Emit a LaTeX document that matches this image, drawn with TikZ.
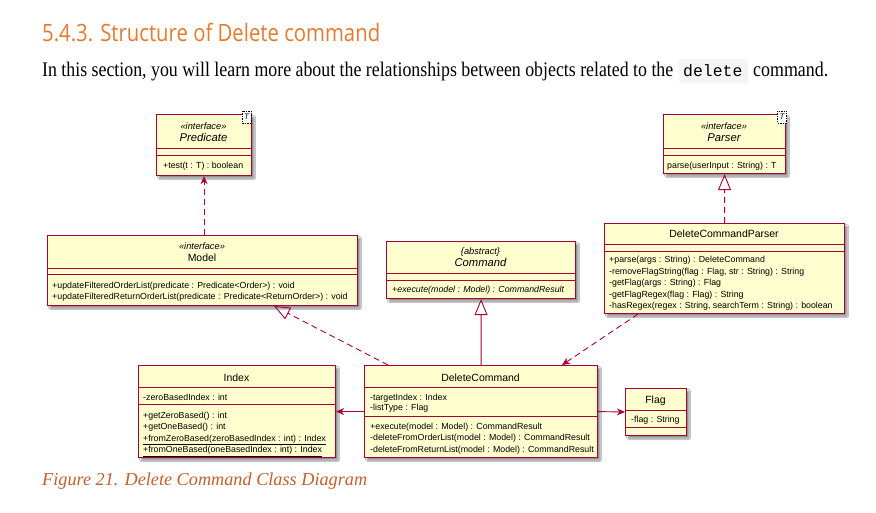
\documentclass[tikz,border=0pt]{standalone}
\usepackage{fontspec}
\setmainfont{Liberation Serif}
\newfontfamily\umlfont{Liberation Sans}
\newfontfamily\titlefont[FakeStretch=0.85]{Open Sans}
\newfontfamily\bodyfont[FakeStretch=0.86]{Liberation Serif}
\newfontfamily\codefont{Liberation Mono}
\usetikzlibrary{arrows.meta,shadows.blur}
\definecolor{umlred}{HTML}{A80036}
\definecolor{umlfill}{HTML}{FEFECE}
\definecolor{titleorange}{HTML}{E67A2E}
\definecolor{captionorange}{HTML}{C4602B}
\definecolor{codebg}{HTML}{F5F5F5}
\tikzset{
 cls/.style={draw=umlred, fill=umlfill, line width=1.1bp, inner sep=0, anchor=north west,
   blur shadow={shadow xshift=2.5bp, shadow yshift=-2.5bp, shadow blur radius=1.5bp, shadow opacity=45}},
 sep/.style={draw=umlred, line width=0.9bp},
 mem/.style={anchor=base west, inner sep=0, font=\umlfont\fontsize{8.85}{11}\selectfont},
 imem/.style={mem, font=\umlfont\itshape\fontsize{8.85}{11}\selectfont},
 cname/.style={anchor=base, inner sep=0, font=\umlfont\fontsize{10.5}{12}\selectfont},
 iname/.style={cname, font=\umlfont\itshape\fontsize{11.3}{12}\selectfont},
 stereo/.style={anchor=base, inner sep=0, font=\umlfont\itshape\fontsize{9.3}{10}\selectfont},
 tmpl/.style={draw=black, dash pattern=on 1.5bp off 1bp, fill=white, line width=0.6bp, inner sep=0,
   minimum width=9bp, minimum height=12bp, font=\umlfont\itshape\fontsize{8}{9}\selectfont},
 dep/.style={draw=umlred, line width=0.9bp, -{Stealth[length=8bp,width=7bp,inset=2.5bp]}},
 depdash/.style={dep, dash pattern=on 6bp off 4bp},
 real/.style={draw=umlred, line width=0.9bp, -{Triangle[open,length=16bp,width=13bp]}},
 realdash/.style={real, dash pattern=on 6bp off 4bp},
 txt/.style={anchor=base west, inner sep=0},
}
\begin{document}
\begin{tikzpicture}[x=1bp,y=-1bp]
\useasboundingbox[fill=white] (0,0) rectangle (876,513);

% heading and text
\node[txt, text=titleorange] (title) at (42,42)
  {\resizebox{338bp}{!}{\titlefont\fontsize{21}{24}\selectfont 5.4.3. Structure of Delete command}};
\node[txt] (intro) at (42,77)
  {\resizebox{631bp}{!}{\bodyfont\fontsize{18}{20}\selectfont In this section, you will learn more about the relationships between objects related to the}};
\node[fill=codebg, rounded corners=2bp, anchor=north west, minimum width=69bp, minimum height=24bp, inner sep=0] (code) at (679,59) {};
\node[txt] (codetext) at (683,77) {\codefont\fontsize{16.5}{18}\selectfont delete};
\node[txt] (intro2) at (753,77)
  {\resizebox{75bp}{!}{\bodyfont\fontsize{18}{20}\selectfont command.}};
\node[txt, text=captionorange] (caption) at (42,485)
  {\resizebox{325bp}{!}{\fontsize{19}{22}\selectfont\itshape Figure 21. Delete Command Class Diagram}};

% Predicate
\node[cls, minimum width=95bp, minimum height=61bp] (pred) at (156,114) {};
\draw[sep] (156,148) -- (251,148);
\draw[sep] (156,155) -- (251,155);
\node[stereo] (predst) at (203.5,130) {«interface»};
\node[iname] (predname) at (203.5,142) {Predicate};
\node[mem] (predm) at (163,169) {+test(t : T) : boolean};
\node[tmpl] (predT) at (246.5,117) {T};

% Parser
\node[cls, minimum width=122bp, minimum height=59bp] (parser) at (663,114) {};
\draw[sep] (663,148) -- (785,148);
\draw[sep] (663,155) -- (785,155);
\node[stereo] (parst) at (724,130) {«interface»};
\node[iname] (parname) at (724,142) {Parser};
\node[mem] (parm) at (667,169) {parse(userInput : String) : T};
\node[tmpl] (parT) at (782,117) {T};

% Model
\node[cls, minimum width=310bp, minimum height=70bp] (model) at (47,235) {};
\draw[sep] (47,268) -- (357,268);
\draw[sep] (47,274) -- (357,274);
\node[stereo] (modst) at (202,250) {«interface»};
\node[cname] (modname) at (202,262) {Model};
\node[mem] (modm1) at (52,289) {+updateFilteredOrderList(predicate : Predicate<Order>) : void};
\node[mem] (modm2) at (52,299.5) {+updateFilteredReturnOrderList(predicate : Predicate<ReturnOrder>) : void};

% Command
\node[cls, minimum width=189bp, minimum height=57bp] (cmd) at (386,241) {};
\draw[sep] (386,273) -- (575,273);
\draw[sep] (386,280) -- (575,280);
\node[stereo] (cmdst) at (480.5,255) {\{abstract\}};
\node[iname] (cmdname) at (480.5,267) {Command};
\node[imem] (cmdm) at (392,293) {+execute(model : Model) : CommandResult};

% DeleteCommandParser
\node[cls, minimum width=240bp, minimum height=90bp] (dcp) at (604,223) {};
\draw[sep] (604,244) -- (844,244);
\draw[sep] (604,251) -- (844,251);
\node[cname] (dcpname) at (724,238) {DeleteCommandParser};
\node[mem] (dcpm1) at (609,263) {+parse(args : String) : DeleteCommand};
\node[mem] (dcpm2) at (609,274.5) {-removeFlagString(flag : Flag, str : String) : String};
\node[mem] (dcpm3) at (609,286) {-getFlag(args : String) : Flag};
\node[mem] (dcpm4) at (609,297.5) {-getFlagRegex(flag : Flag) : String};
\node[mem] (dcpm5) at (609,309) {-hasRegex(regex : String, searchTerm : String) : boolean};

% Index
\node[cls, minimum width=197bp, minimum height=92bp] (index) at (138,365) {};
\draw[sep] (138,387) -- (335,387);
\draw[sep] (138,404) -- (335,404);
\node[cname] (idxname) at (236.5,381) {Index};
\node[mem] (idxa) at (143,400) {-zeroBasedIndex : int};
\node[mem] (idxm1) at (143,418) {+getZeroBased() : int};
\node[mem] (idxm2) at (143,429.5) {+getOneBased() : int};
\node[mem] (idxm3) at (143,441) {\underline{+fromZeroBased(zeroBasedIndex : int) : Index}};
\node[mem] (idxm4) at (143,452.5) {\underline{+fromOneBased(oneBasedIndex : int) : Index}};

% DeleteCommand
\node[cls, minimum width=233bp, minimum height=92bp] (dc) at (364,365) {};
\draw[sep] (364,387) -- (597,387);
\draw[sep] (364,416) -- (597,416);
\node[cname] (dcname) at (480.5,381) {DeleteCommand};
\node[mem] (dca1) at (370,400) {-targetIndex : Index};
\node[mem] (dca2) at (370,410.5) {-listType : Flag};
\node[mem] (dcm1) at (370,429) {+execute(model : Model) : CommandResult};
\node[mem] (dcm2) at (370,440.5) {-deleteFromOrderList(model : Model) : CommandResult};
\node[mem] (dcm3) at (370,452) {-deleteFromReturnList(model : Model) : CommandResult};

% Flag
\node[cls, minimum width=61bp, minimum height=47bp] (flag) at (625,388) {};
\draw[sep] (625,410) -- (686,410);
\draw[sep] (625,427) -- (686,427);
\node[cname] (flagname) at (655.5,403) {Flag};
\node[mem] (flaga) at (631,422) {-flag : String};

% connectors
\draw[depdash] (model.north -| pred.south) -- (pred.south);
\draw[realdash] (dcp.north) -- (parser.south);
\draw[real] (dc.north) -- (cmd.south);
\draw[realdash] ([xshift=24bp]dc.north west) -- ([xshift=227bp]model.south west);
\draw[depdash] ([xshift=34bp]dcp.south west) -- ([xshift=198bp]dc.north west);
\draw[dep] (dc.west) -- (index.east);
\draw[dep] (dc.east) -- (flag.west);
\end{tikzpicture}
\end{document}
